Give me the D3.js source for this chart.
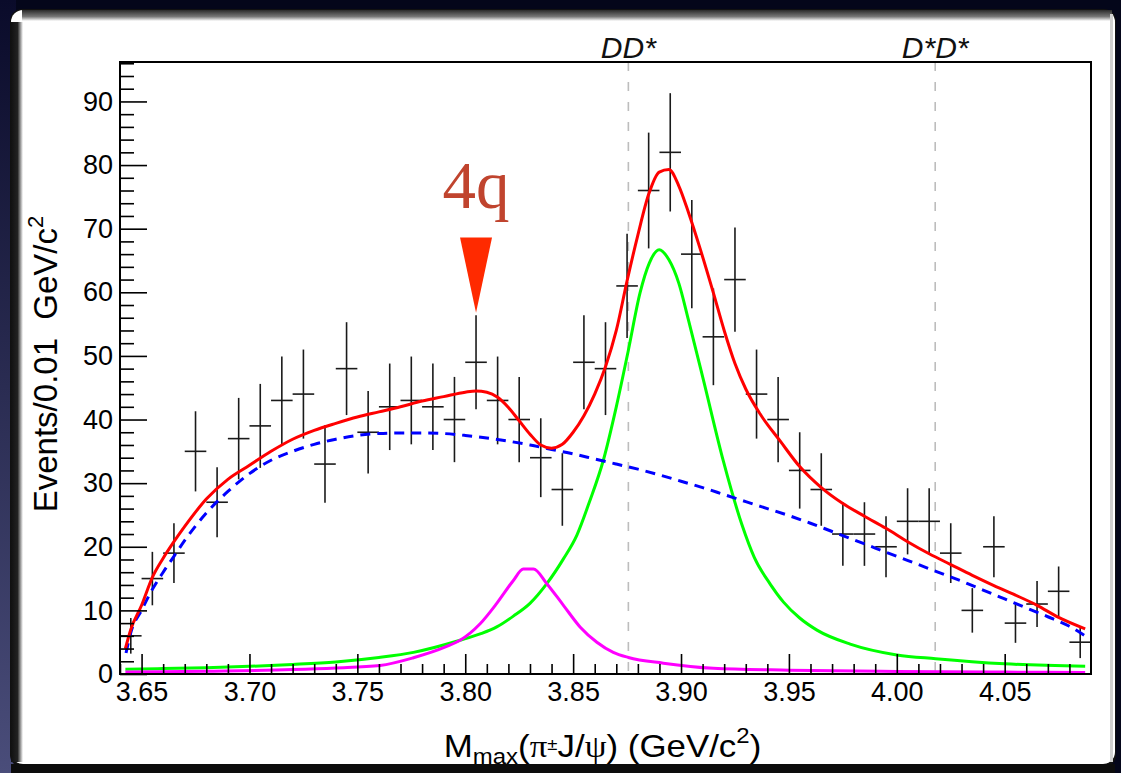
<!DOCTYPE html>
<html>
<head>
<meta charset="utf-8">
<script src="https://cdn.jsdelivr.net/npm/d3@7"></script>
<style>
  html, body { margin: 0; padding: 0; background: #05071c; }
  svg { display: block; }
  text { font-family: "Liberation Sans", Arial, Helvetica, sans-serif; }
</style>
</head>
<body>
<svg id="chart" width="1121" height="773"></svg>
<script>
// ---------------- data ----------------
const binCenters = [3.645, 3.655, 3.665, 3.675, 3.685, 3.695, 3.705, 3.715, 3.725, 3.735,
  3.745, 3.755, 3.765, 3.775, 3.785, 3.795, 3.805, 3.815, 3.825, 3.835,
  3.845, 3.855, 3.865, 3.875, 3.885, 3.895, 3.905, 3.915, 3.925, 3.935,
  3.945, 3.955, 3.965, 3.975, 3.985, 3.995, 4.005, 4.015, 4.025, 4.035,
  4.045, 4.055, 4.065, 4.075, 4.085];
const counts = [6, 15, 19, 35, 27, 37, 39, 43, 44, 33,
  48, 38, 42, 43, 42, 40, 49, 43, 40, 34,
  29, 49, 48, 61, 76, 82, 66, 53, 62, 44,
  40, 32, 29, 22, 22, 20, 24, 24, 19, 10,
  20, 8, 11, 13, 5];
const countErrors = [2.8, 4.2, 4.7, 6.3, 5.5, 6.4, 6.6, 6.9, 7.0, 6.1,
  7.3, 6.5, 6.8, 6.9, 6.8, 6.7, 7.4, 6.9, 6.7, 6.2,
  5.7, 7.4, 7.3, 8.2, 9.1, 9.3, 8.5, 7.6, 8.2, 7.0,
  6.7, 6.0, 5.7, 5.0, 5.0, 4.8, 5.2, 5.2, 4.7, 3.5,
  4.8, 3.1, 3.6, 3.9, 2.5];
const binHalfWidth = 0.005;

// total fit (red)
const totalX = [3.6425, 3.645, 3.65, 3.655, 3.66, 3.665, 3.67, 3.68, 3.69, 3.70,
  3.71, 3.72, 3.73, 3.74, 3.75, 3.76, 3.77, 3.78, 3.79, 3.80,
  3.805, 3.81, 3.815, 3.82, 3.825, 3.83, 3.835, 3.84, 3.845, 3.85,
  3.855, 3.86, 3.865, 3.87, 3.875, 3.88, 3.885, 3.8899, 3.8944, 3.899,
  3.9035, 3.909, 3.915, 3.92, 3.925, 3.93, 3.9366, 3.946, 3.955, 3.965,
  3.975, 3.985, 3.995, 4.005, 4.015, 4.025, 4.035, 4.045, 4.055, 4.065,
  4.075, 4.0873];
const totalY = [4.0, 7.0, 10.8, 15.2, 18.2, 20.8, 23.2, 27.5, 30.6, 32.8,
  35.0, 36.9, 38.3, 39.4, 40.4, 41.2, 42.0, 42.9, 43.6, 44.3,
  44.5, 44.3, 43.5, 41.9, 39.8, 37.7, 36.0, 35.5, 36.1, 38.0,
  40.6, 44.0, 48.3, 54.0, 61.8, 69.0, 75.4, 78.9, 79.3, 76.7,
  72.5, 66.7, 59.9, 54.0, 48.8, 44.8, 40.9, 36.6, 32.6, 29.3,
  26.8, 24.8, 22.9, 20.8, 18.9, 17.2, 15.5, 13.9, 12.4, 10.8,
  8.9, 7.1];

// background (blue dashed)
const bkgX = [3.6428, 3.645, 3.65, 3.655, 3.66, 3.665, 3.67, 3.68, 3.69, 3.70,
  3.71, 3.72, 3.73, 3.74, 3.75, 3.76, 3.77, 3.78, 3.79, 3.80,
  3.81, 3.82, 3.83, 3.84, 3.85, 3.86, 3.87, 3.88, 3.89, 3.90,
  3.91, 3.92, 3.93, 3.94, 3.95, 3.96, 3.97, 3.98, 3.99, 4.00,
  4.01, 4.02, 4.03, 4.04, 4.05, 4.06, 4.07, 4.08, 4.0873];
const bkgY = [3.3, 6.5, 10.0, 13.3, 16.0, 18.5, 21.0, 25.3, 28.7, 31.5,
  33.6, 35.0, 36.1, 36.9, 37.5, 37.8, 37.9, 37.9, 37.8, 37.5,
  37.1, 36.6, 36.0, 35.3, 34.6, 33.8, 33.0, 32.2, 31.3, 30.3,
  29.3, 28.2, 27.1, 26.0, 24.9, 23.7, 22.4, 21.1, 19.8, 18.5,
  17.2, 15.9, 14.6, 13.2, 11.8, 10.4, 9.0, 7.5, 6.0];

// Zc(3900) component (green)
const zcX = [3.6425, 3.66, 3.68, 3.70, 3.72, 3.74, 3.76, 3.776, 3.7976, 3.8069,
  3.8146, 3.8223, 3.83, 3.8378, 3.8455, 3.8517, 3.8575, 3.864, 3.87,
  3.8756, 3.881, 3.8853, 3.8899, 3.8944, 3.899, 3.9034, 3.9104, 3.9196, 3.9282,
  3.934, 3.9414, 3.9475, 3.955, 3.963, 3.9784, 4.0, 4.018, 4.05, 4.0873];
const zcY = [0.75, 0.85, 1.0, 1.2, 1.5, 1.9, 2.6, 3.4, 5.3, 6.3,
  7.4, 9.1, 11.1, 14.2, 18.1, 21.8, 27.0, 33.6, 42.0,
  50.9, 59.9, 64.6, 66.7, 65.1, 61.4, 55.7, 46.2, 33.5, 23.5,
  18.3, 14.1, 11.3, 8.8, 6.9, 4.7, 3.0, 2.4, 1.6, 1.2];

// lower peak component (magenta)
const peakX = [3.6425, 3.68, 3.72, 3.74, 3.7605, 3.776, 3.7914, 3.7976, 3.8069, 3.8146,
  3.8223, 3.8269, 3.8316, 3.8378, 3.8455, 3.8532, 3.861, 3.8686, 3.8756, 3.8918,
  3.915, 3.95, 4.0, 4.05, 4.0873];
const peakY = [0.3, 0.45, 0.7, 0.95, 1.34, 2.55, 4.33, 5.3, 7.9, 11.1,
  14.7, 16.5, 16.5, 14.2, 10.8, 7.4, 5.0, 3.4, 2.6, 1.7,
  0.9, 0.6, 0.4, 0.3, 0.25];

// thresholds
const thresholdX = [3.8756, 4.0178];
const thresholdLabels = ["DD*", "D*D*"];

// annotation "4q"
const annotX = [3.805];
const annotTipY = [56.8];
const annotTopY = [68.6];
const annotTextY = [73.3];
const annotLabels = ["4q"];

// axes
const xTickValues = [3.65, 3.70, 3.75, 3.80, 3.85, 3.90, 3.95, 4.00, 4.05];
const xTickLabels = ["3.65", "3.70", "3.75", "3.80", "3.85", "3.90", "3.95", "4.00", "4.05"];
const yTickValues = [0, 10, 20, 30, 40, 50, 60, 70, 80, 90];
const yTickLabels = ["0", "10", "20", "30", "40", "50", "60", "70", "80", "90"];
const xDomain = [3.64, 4.09];
const yDomain = [0, 96.2];

// ---------------- drawing ----------------
const W = 1121, H = 773;
const L = 120, R = 1091, T = 62, B = 674;
const svg = d3.select("#chart");
const defs = svg.append("defs");
const serif = "'Liberation Serif', 'DejaVu Serif', serif";

// slide-like background
const bgGrad = defs.append("linearGradient").attr("id", "bgLeft").attr("x1", 0).attr("y1", 0).attr("x2", 0).attr("y2", 1);
bgGrad.append("stop").attr("offset", "0%").attr("stop-color", "#0a0b2a");
bgGrad.append("stop").attr("offset", "100%").attr("stop-color", "#4a4d7a");
svg.append("rect").attr("width", W).attr("height", H).attr("fill", "#04061a");
svg.append("rect").attr("x", 0).attr("y", 0).attr("width", 16).attr("height", H).attr("fill", "url(#bgLeft)");

const topGrad = defs.append("linearGradient").attr("id", "topShade").attr("x1", 0).attr("y1", 0).attr("x2", 0).attr("y2", 1);
topGrad.append("stop").attr("offset", "0%").attr("stop-color", "#2a2a2a");
topGrad.append("stop").attr("offset", "60%").attr("stop-color", "#777");
topGrad.append("stop").attr("offset", "100%").attr("stop-color", "#ffffff");
const leftGrad = defs.append("linearGradient").attr("id", "leftShade").attr("x1", 0).attr("y1", 0).attr("x2", 1).attr("y2", 0);
leftGrad.append("stop").attr("offset", "0%").attr("stop-color", "#111");
leftGrad.append("stop").attr("offset", "55%").attr("stop-color", "#222");
leftGrad.append("stop").attr("offset", "100%").attr("stop-color", "#ffffff");

svg.append("rect").attr("x", 10).attr("y", 9).attr("width", 1106).attr("height", 758)
  .attr("rx", 12).attr("fill", "#111");
svg.append("rect").attr("x", 11).attr("y", 10).attr("width", 1104).attr("height", 754)
  .attr("rx", 12).attr("fill", "#ffffff");
svg.append("rect").attr("x", 22).attr("y", 10).attr("width", 1090).attr("height", 11).attr("fill", "url(#topShade)");
svg.append("rect").attr("x", 11).attr("y", 22).attr("width", 12).attr("height", 740).attr("fill", "url(#leftShade)");
svg.append("rect").attr("x", 11).attr("y", 764).attr("width", 1104).attr("height", 9).attr("fill", "#0c0c0c");
svg.append("rect").attr("x", 1110).attr("y", 14).attr("width", 3).attr("height", 748).attr("fill", "#d0d0d0");

const x = d3.scaleLinear().domain(xDomain).range([L, R]);
const y = d3.scaleLinear().domain(yDomain).range([B, T]);

defs.append("clipPath").attr("id", "plotClip")
  .append("rect").attr("x", L).attr("y", T).attr("width", R - L).attr("height", B - T);

const plot = svg.append("g");
const clipped = plot.append("g").attr("clip-path", "url(#plotClip)");

// threshold lines
clipped.selectAll("line.thr").data(thresholdX).join("line")
  .attr("class", "thr")
  .attr("x1", d => x(d)).attr("x2", d => x(d))
  .attr("y1", y(yDomain[1])).attr("y2", y(0))
  .attr("stroke", "#bdbdbd").attr("stroke-width", 1.6).attr("stroke-dasharray", "9,11");

svg.selectAll("text.thr").data(thresholdX).join("text")
  .attr("class", "thr")
  .attr("x", d => x(d)).attr("y", 58)
  .attr("text-anchor", "middle")
  .attr("font-size", 30).attr("font-style", "italic")
  .attr("fill", "#111")
  .text((d, i) => thresholdLabels[i]);

// data points with error bars
const pts = binCenters.map((c, i) => ({ c, n: counts[i], e: countErrors[i] }));
const dg = clipped.append("g").attr("stroke", "#1a1a1a").attr("stroke-width", 1.6);
dg.selectAll("line.v").data(pts).join("line")
  .attr("x1", d => x(d.c)).attr("x2", d => x(d.c))
  .attr("y1", d => y(d.n + d.e)).attr("y2", d => y(Math.max(0, d.n - d.e)));
dg.selectAll("line.h").data(pts).join("line")
  .attr("x1", d => x(d.c - binHalfWidth)).attr("x2", d => x(d.c + binHalfWidth))
  .attr("y1", d => y(d.n)).attr("y2", d => y(d.n));

// curves
const line = d3.line().curve(d3.curveMonotoneX).x(d => x(d[0])).y(d => y(d[1]));
const zip = (a, b) => a.map((v, i) => [v, b[i]]);
clipped.append("path").datum(zip(zcX, zcY)).attr("d", line)
  .attr("fill", "none").attr("stroke", "#00ff00").attr("stroke-width", 3).attr("stroke-linejoin", "round");
clipped.append("path").datum(zip(peakX, peakY)).attr("d", line)
  .attr("fill", "none").attr("stroke", "#ff00ff").attr("stroke-width", 3).attr("stroke-linejoin", "round");
clipped.append("path").datum(zip(bkgX, bkgY)).attr("d", line)
  .attr("fill", "none").attr("stroke", "#0000ff").attr("stroke-width", 3).attr("stroke-dasharray", "10,7");
clipped.append("path").datum(zip(totalX, totalY)).attr("d", line)
  .attr("fill", "none").attr("stroke", "#ff0000").attr("stroke-width", 3).attr("stroke-linejoin", "round");

// axes
const axisFont = 27;
svg.append("g").attr("transform", `translate(0,${B})`)
  .call(d3.axisBottom(x).tickValues(xTickValues).tickFormat((d, i) => xTickLabels[i])
    .tickSizeInner(-20).tickSizeOuter(0).tickPadding(8));
const xMinor = d3.range(364, 409).map(v => v / 100).filter(v => !xTickValues.some(t => Math.abs(t - v) < 1e-6));
svg.append("g").attr("transform", `translate(0,${B})`)
  .call(d3.axisBottom(x).tickValues(xMinor).tickFormat("").tickSizeInner(-10).tickSizeOuter(0));

svg.append("g").attr("transform", `translate(${L},0)`)
  .call(d3.axisLeft(y).tickValues(yTickValues).tickFormat((d, i) => yTickLabels[i])
    .tickSizeInner(-27).tickSizeOuter(0).tickPadding(7));
const yMinor = d3.range(0, 97, 2).filter(v => v % 10 !== 0);
svg.append("g").attr("transform", `translate(${L},0)`)
  .call(d3.axisLeft(y).tickValues(yMinor).tickFormat("").tickSizeInner(-14).tickSizeOuter(0));

svg.selectAll(".domain").remove();
svg.selectAll(".tick line").attr("stroke", "#000").attr("stroke-width", 1.6);
svg.selectAll(".tick text").attr("font-size", axisFont).attr("fill", "#000")
  .style("font-family", "'Liberation Sans', Arial, sans-serif");

// frame
svg.append("rect").attr("x", L).attr("y", T).attr("width", R - L).attr("height", B - T)
  .attr("fill", "none").attr("stroke", "#000").attr("stroke-width", 2);

// annotation arrow and label
svg.selectAll("path.arrow").data(annotX).join("path")
  .attr("class", "arrow")
  .attr("d", (d, i) => {
    const cx = x(d), tip = y(annotTipY[i]), top = y(annotTopY[i]);
    return `M${cx - 16},${top} L${cx + 16},${top} L${cx},${tip} Z`;
  })
  .attr("fill", "#ff2a00");
svg.selectAll("text.annot").data(annotX).join("text")
  .attr("class", "annot")
  .attr("x", d => x(d)).attr("y", (d, i) => y(annotTextY[i]))
  .attr("text-anchor", "middle")
  .style("font-family", serif)
  .attr("font-size", 67).attr("fill", "#c0442e")
  .text((d, i) => annotLabels[i]);

// axis titles
const yt = svg.append("text")
  .attr("transform", `translate(57,${(T + B) / 2 - 4}) rotate(-90)`)
  .attr("text-anchor", "middle").attr("font-size", 33).attr("fill", "#000");
yt.append("tspan").text("Events/0.01\u00a0\u00a0GeV/c");
yt.append("tspan").attr("font-size", 22).attr("dy", -14).text("2");

const xt = svg.append("text")
  .attr("transform", `translate(${(L + R) / 2 - 3},757) scale(1.09,1)`)
  .attr("text-anchor", "middle").attr("font-size", 32).attr("fill", "#000");
xt.append("tspan").text("M");
xt.append("tspan").attr("font-size", 22).attr("dy", 7).text("max");
xt.append("tspan").attr("dy", -7).text("(");
xt.append("tspan").style("font-family", serif).text("\u03c0");
xt.append("tspan").attr("font-size", 17).attr("dy", -7).text("\u00b1");
xt.append("tspan").attr("dy", 7).text("J/");
xt.append("tspan").style("font-family", serif).text("\u03c8");
xt.append("tspan").text(") (GeV/c");
xt.append("tspan").attr("font-size", 22).attr("dy", -14).text("2");
xt.append("tspan").attr("dy", 14).text(")");
</script>
</body>
</html>
